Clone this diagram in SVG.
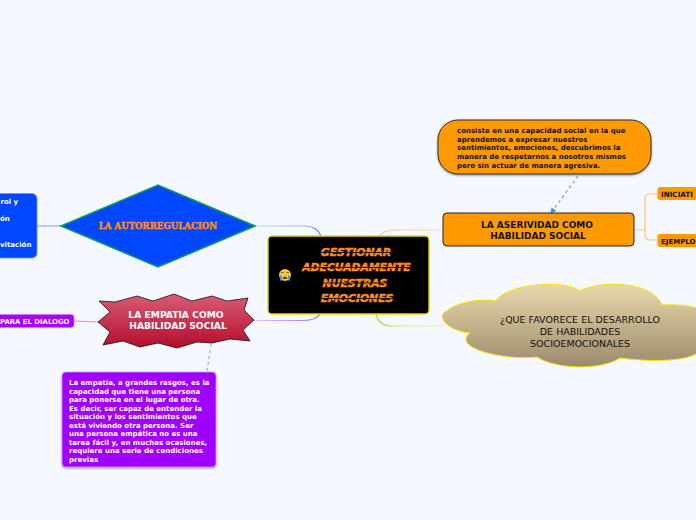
<svg xmlns="http://www.w3.org/2000/svg" width="696" height="520" viewBox="0 0 696 520">
<style>
text{font-family:"DejaVu Sans",Verdana,sans-serif}
.b{font-weight:700}
.note{font-size:7px;font-weight:700}
.w{fill:#fff}
.k{fill:#111}
.title{font-size:10.800px;font-weight:700;font-style:italic;fill:#ff8c1a;stroke:#ff8c1a;stroke-width:.55;text-anchor:middle}
.mid{text-anchor:middle}
.con{fill:none;stroke-width:1.2}
</style>
<defs>
<linearGradient id="star" x1="0" y1="0" x2="0" y2="1"><stop offset="0" stop-color="#d95c76"/><stop offset="1" stop-color="#b50c2c"/></linearGradient>
<linearGradient id="cloud" x1="0" y1="0" x2="0" y2="1"><stop offset="0" stop-color="#e9d8ab"/><stop offset="1" stop-color="#9b8b6c"/></linearGradient>
<linearGradient id="gBlue" gradientUnits="userSpaceOnUse" x1="321" y1="0" x2="255" y2="0"><stop offset="0" stop-color="#4a78ff"/><stop offset=".3" stop-color="#9db6ff"/><stop offset="1" stop-color="#c4d3ff"/></linearGradient>
<linearGradient id="gPurple" gradientUnits="userSpaceOnUse" x1="321" y1="0" x2="255" y2="0"><stop offset="0" stop-color="#a94cff"/><stop offset=".4" stop-color="#c990ff"/><stop offset="1" stop-color="#dcc0ff"/></linearGradient>
<linearGradient id="gOrange" gradientUnits="userSpaceOnUse" x1="379" y1="0" x2="443" y2="0"><stop offset="0" stop-color="#ffc98a"/><stop offset="1" stop-color="#ffdcb4"/></linearGradient>
<linearGradient id="gGreen" gradientUnits="userSpaceOnUse" x1="376" y1="0" x2="443" y2="0"><stop offset="0" stop-color="#8fea2e"/><stop offset=".4" stop-color="#c4f58e"/><stop offset="1" stop-color="#dcfbb8"/></linearGradient>
<marker id="arr" viewBox="0 0 6 6" refX="5" refY="3" markerWidth="5" markerHeight="5" orient="auto"><path d="M0,0L6,3L0,6z" fill="#3f93f5"/></marker>
<filter id="sh" x="-5%" y="-5%" width="110%" height="115%"><feDropShadow dx="0" dy="1" stdDeviation=".8" flood-color="#000" flood-opacity=".45"/></filter>
</defs>
<rect width="696" height="520" fill="#f5f8ff"/>
<g id="connectors">
<path class="con" stroke="url(#gBlue)" d="M255,226H305Q317,226 321,236"/>
<path class="con" stroke="url(#gPurple)" d="M254,320.500H304Q316,320.500 320,314"/>
<path class="con" stroke="url(#gOrange)" d="M379,236Q385,230 394,230H443"/>
<path class="con" stroke="url(#gGreen)" d="M376,314Q379,326 392,326H443"/>
<path class="con" stroke="#ffc27a" d="M634,230H645M658,194H650Q645,194 645,199V235Q645,240 650,240H658"/>
<path class="con" stroke="#8aa8ff" d="M37,226H61"/>
<path class="con" stroke="#c78bff" d="M74,321L98,322"/>
<path class="con" stroke="#5ea4f2" stroke-dasharray="3 3" marker-end="url(#arr)" d="M578,176L551,213"/>
<path class="con" stroke="#7fb4f0" stroke-dasharray="3 3" d="M211,344L207,371"/>
</g>
<g id="node-center">
<rect x="268" y="236" width="161" height="78" rx="4" fill="#000" stroke="#f2d500" stroke-width="1.300"/>
<circle cx="285" cy="275" r="6" fill="#f7c93a"/>
<path d="M281,275.500v5M289,275.500v5" stroke="#3f9be8" stroke-width="2"/>
<path d="M282.800,279a2.200,2.500 0 0 1 4.400,0z" fill="#5a3a10"/>
<path d="M281,272.500h2.500M286.500,272.500h2.500" stroke="#5a3a10" stroke-width=".8"/>
<text class="title" x="356" y="256">GESTIONAR</text>
<text class="title" x="356.500" y="271">ADECUADAMENTE</text>
<text class="title" x="355" y="286.500">NUESTRAS</text>
<text class="title" x="357" y="302">EMOCIONES</text>
<path d="M290,252.500H425M290,267.500H425M290,283H425M290,298.500H425" stroke="#000" stroke-width=".8" fill="none"/>
</g>
<g id="node-autorregulacion">
<polygon points="61,226 158,185 255,226 158,267" fill="#0047ff" stroke="#0c9e55" stroke-width="1.500"/>
<text x="158" y="228.500" class="mid" style="font-family:'DejaVu Serif',serif;font-weight:700;font-size:8.600px;fill:#ff8c1a;stroke:#ff8c1a;stroke-width:.4">LA AUTORREGULACION</text>
</g>
<g id="node-control">
<rect x="-10" y="193.500" width="47" height="64.500" rx="5" fill="#0047ff" stroke="#6f94ff" stroke-width=".8"/>
<text class="note w" x="0.500" y="203.500">rol y</text>
<text class="note w" x="0" y="220.500">ón</text>
<text class="note w" x="0" y="246.500">vitación</text>
</g>
<g id="node-empatia">
<polygon points="99,301 115,302 137,296 153,301 174,294 192,301 212,296 227,301 248,298 244,310 254,320 243,330 250,341 230,339 212,343 197,342 177,348 158,343 140,347 123,341 103,345 110,332 98,322 110,312" fill="url(#star)" stroke="#111" stroke-width=".8"/>
<text class="w b mid" font-size="9.200" x="176" y="318">LA EMPATIA COMO</text>
<text class="w b mid" font-size="9.200" x="178" y="329">HABILIDAD SOCIAL</text>
</g>
<g id="node-dialogo">
<rect x="-10" y="314.500" width="84" height="13" rx="3" fill="#a800ff" stroke="#c880ff" stroke-width=".6"/>
<text class="w b" font-size="6.900" x="0" y="323.500">PARA EL DIALOGO</text>
</g>
<g id="node-nota-empatia">
<rect x="62" y="372" width="154" height="95" rx="4" fill="#a000ff" stroke="#d0a0ff" stroke-width=".7" filter="url(#sh)"/>
<text class="note w" x="69" y="384.500">La empatía, a grandes rasgos, es la</text>
<text class="note w" x="69" y="393.500">capacidad que tiene una persona</text>
<text class="note w" x="69" y="401.800">para ponerse en el lugar de otra.</text>
<text class="note w" x="69" y="410.500">Es decir, ser capaz de entender la</text>
<text class="note w" x="69" y="418.800">situación y los sentimientos que</text>
<text class="note w" x="69" y="427.500">está viviendo otra persona. Ser</text>
<text class="note w" x="69" y="435.800">una persona empática no es una</text>
<text class="note w" x="69" y="444.500">tarea fácil y, en muchas ocasiones,</text>
<text class="note w" x="69" y="452.500">requiere una serie de condiciones</text>
<text class="note w" x="69" y="461.500">previas</text>
</g>
<g id="node-nota-aserividad">
<rect x="438" y="120" width="213" height="54" rx="20" fill="#ff9900" stroke="#333" stroke-width="1" filter="url(#sh)"/>
<text class="note k" x="457" y="133">consiste en una capacidad social en la que</text>
<text class="note k" x="457" y="141.500">aprendemos a expresar nuestros</text>
<text class="note k" x="457" y="150">sentimientos, emociones, descubrimos la</text>
<text class="note k" x="457" y="158.500">manera de respetarnos a nosotros mismos</text>
<text class="note k" x="457" y="167.500">pero sin actuar de manera agresiva.</text>
</g>
<g id="node-aserividad">
<rect x="443" y="213" width="191" height="33" rx="4" fill="#ff9900" stroke="#222" stroke-width="1"/>
<text class="k b mid" font-size="9" x="537" y="228">LA ASERIVIDAD COMO</text>
<text class="k b mid" font-size="9" x="538" y="239">HABILIDAD SOCIAL</text>
</g>
<g id="node-iniciativa">
<rect x="657.500" y="187" width="48" height="13" rx="3" fill="#ff9900"/>
<text class="k b" font-size="7.200" x="661" y="197">INICIATI</text>
</g>
<g id="node-ejemplo">
<rect x="657.500" y="234" width="48" height="13" rx="3" fill="#ff9900"/>
<text class="k b" font-size="7" x="661" y="244">EJEMPLO</text>
</g>
<g id="node-cloud">
<path d="M496,301C505,284 565,279 580,291C602,280 652,281 662,305C680,304 700,306 712,315C722,325 722,345 700,351C690,362 650,362 620,358C600,371 555,369 537,357C510,360 468,352 466,340C466,336 468,334 470,333C445,330 436,315 447,311C455,303 480,298 496,301Z" fill="url(#cloud)" stroke="#f5e400" stroke-width="1"/>
<text class="mid k" font-size="9.500" x="580" y="323">¿QUE FAVORECE EL DESARROLLO</text>
<text class="mid k" font-size="9.500" x="580" y="335">DE HABILIDADES</text>
<text class="mid k" font-size="9.500" x="580" y="347">SOCIOEMOCIONALES</text>
</g>
</svg>
